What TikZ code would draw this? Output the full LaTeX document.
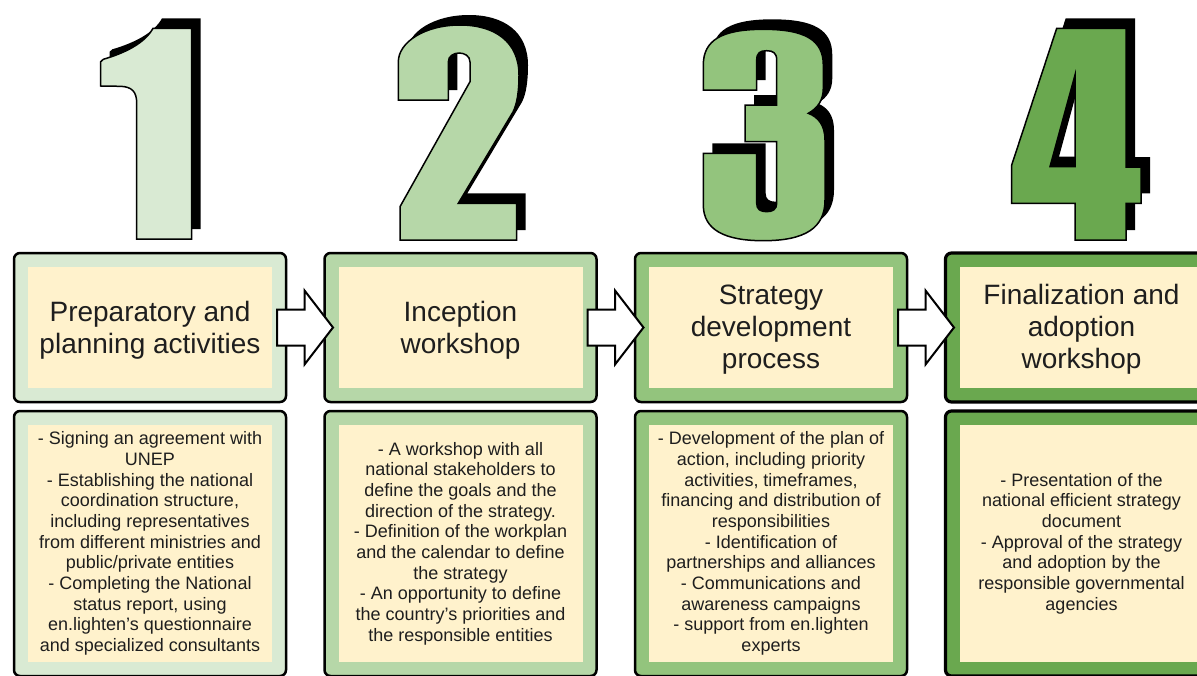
\documentclass[tikz,border=0pt]{standalone}
\usepackage{fontspec}
\setmainfont{Liberation Sans}
\usetikzlibrary{calc}
\definecolor{gA}{HTML}{D9EAD3}
\definecolor{gB}{HTML}{B6D7A8}
\definecolor{gC}{HTML}{93C47D}
\definecolor{gD}{HTML}{6AA84F}
\definecolor{cream}{HTML}{FFF2CC}
\definecolor{ink}{HTML}{1E1E1E}
\def\PathOne{(136.7,239) -- (136.7,103) .. controls (136.7,92) and (132,86.5) .. (120,86.3) -- (100.7,86) -- (100.7,61.7) -- (103.3,59.3) .. controls (125,53) and (145,43) .. (153,28.3) -- (191.7,28.3) -- (191.7,239) -- cycle}
\def\PathTwo{(398.3,100) -- (448.3,100) -- (448.3,62) .. controls (448.3,50) and (470,50) .. (470,62) -- (470,81.7) -- (400,206.7) -- (400,240) -- (516.7,240) -- (516.7,203.3) -- (458.3,203.3) -- (513,112) .. controls (517,104) and (519,92) .. (519,75) .. controls (519,42) and (495,25) .. (460,25) .. controls (425,25) and (398.3,42) .. (398.3,62) -- cycle}
\def\PathThree{(703.3,90) -- (756.7,90) -- (756.7,60) .. controls (756.7,53) and (760,50.7) .. (766.7,50.7) .. controls (773,50.7) and (776.7,53) .. (776.7,60) -- (776.7,105) -- (745,105) -- (745,141.7) -- (776.7,141.7) -- (776.7,203.3) .. controls (776.7,209) and (773,211.7) .. (766.7,211.7) .. controls (760,211.7) and (756.7,209) .. (756.7,203.3) -- (756.7,153.3) -- (703.3,153.3) -- (703.3,205) .. controls (703.3,230) and (725,240.7) .. (763.3,240.7) .. controls (805,240.7) and (825,228) .. (825,200) -- (825,140) .. controls (825,125) and (818,117) .. (808.3,113.3) .. controls (818,108) and (823.3,100) .. (823.3,88) -- (823.3,65) .. controls (823.3,40) and (805,29.3) .. (763.3,29.3) .. controls (722,29.3) and (703.3,40) .. (703.3,65) -- cycle}
\def\PathFour{(1056.7,28.3) -- (1126,28.3) -- (1126,167) -- (1141,167) -- (1141,203.3) -- (1126,203.3) -- (1126,240) -- (1075,240) -- (1075,203.3) -- (1011.7,203.3) -- (1011.7,165) -- cycle (1075,75) -- (1075,166.7) -- (1050,166.7) -- cycle}
\tikzset{
  digitshadow/.style={fill=black, even odd rule, shift={(9,-10)}},
  digitface/.style={draw=black, line width=1.5pt, even odd rule, line join=miter},
  outerbox/.style={draw=black, line width=2.5pt, rounded corners=6pt, minimum width=272pt, inner sep=0pt, outer sep=0pt},
  topbox/.style={outerbox, minimum height=149pt},
  lowbox/.style={outerbox, minimum height=265pt},
  creamtop/.style={fill=cream, minimum width=244pt, minimum height=121pt, inner sep=0pt},
  titletext/.style={align=center, text=ink, inner sep=0pt, font=\fontsize{28}{32.2}\selectfont},
  creamlow/.style={fill=cream, minimum width=244pt, minimum height=237pt, inner sep=0pt, align=center, text=ink, font=\fontsize{18}{20.7}\selectfont},
  blockarrow/.style={draw=black, fill=white, line width=2pt, line join=miter}
}
\begin{document}
\begin{tikzpicture}[x=1pt,y=-1pt]
\useasboundingbox (0,0) rectangle (1197,675);
\clip (0,0) rectangle (1197,675);
% big digits
\fill[digitshadow] \PathOne;
\path[digitface, fill=gA] \PathOne;
\fill[digitshadow] \PathTwo;
\path[digitface, fill=gB] \PathTwo;
\fill[digitshadow] \PathThree;
\path[digitface, fill=gC] \PathThree;
\fill[digitshadow] \PathFour;
\path[digitface, fill=gD] \PathFour;
% top boxes
\node[topbox, fill=gA] (b1) at (150,327.5) {};
\node[topbox, fill=gB] (b2) at (460.5,327.5) {};
\node[topbox, fill=gC] (b3) at (771,327.5) {};
\node[topbox, fill=gD, line width=3.2pt] (b4) at (1081.5,327.5) {};
\node[creamtop] (c1) at (b1.center) {};
\node[creamtop] (c2) at (b2.center) {};
\node[creamtop] (c3) at (b3.center) {};
\node[creamtop] (c4) at (b4.center) {};
\node[titletext] (t1) at ($(c1.center)+(0,3)$) {Preparatory and\\planning activities};
\node[titletext] (t2) at ($(c2.center)+(0,3)$) {Inception\\workshop};
\node[titletext] (t3) at ($(c3.center)+(0,2)$) {Strategy\\development\\process};
\node[titletext] (t4) at ($(c4.center)+(0,2)$) {Finalization and\\adoption\\workshop};
% lower boxes
\node[lowbox, fill=gA] (l1) at (150,543.5) {};
\node[lowbox, fill=gB] (l2) at (460.5,543.5) {};
\node[lowbox, fill=gC] (l3) at (771,543.5) {};
\node[lowbox, fill=gD, line width=3.2pt] (l4) at (1081.5,543.5) {};
\node[creamlow] (d1) at (l1.center) {- Signing an agreement with\\UNEP\\- Establishing the national\\coordination structure,\\including representatives\\from different ministries and\\public/private entities\\- Completing the National\\status report, using\\en.lighten's questionnaire\\and specialized consultants};
\node[creamlow] (d2) at (l2.center) {- A workshop with all\\national stakeholders to\\define the goals and the\\direction of the strategy.\\- Definition of the workplan\\and the calendar to define\\the strategy\\- An opportunity to define\\the country's priorities and\\the responsible entities};
\node[creamlow] (d3) at (l3.center) {- Development of the plan of\\action, including priority\\activities, timeframes,\\financing and distribution of\\responsibilities\\- Identification of\\partnerships and alliances\\- Communications and\\awareness campaigns\\- support from en.lighten\\experts};
\node[creamlow] (d4) at (l4.center) {- Presentation of the\\national efficient strategy\\document\\- Approval of the strategy\\and adoption by the\\responsible governmental\\agencies};
% block arrows
\foreach \a/\b in {b1/b2, b2/b3, b3/b4}{
  \draw[blockarrow] ($(\a.east)+(-9,-18)$) -- ($(\b.west)+(-20,-18)$) -- ($(\b.west)+(-20,-37)$) -- ($(\b.west)+(8.5,0)$) -- ($(\b.west)+(-20,37)$) -- ($(\b.west)+(-20,18)$) -- ($(\a.east)+(-9,18)$) -- cycle;
}
\end{tikzpicture}
\end{document}
